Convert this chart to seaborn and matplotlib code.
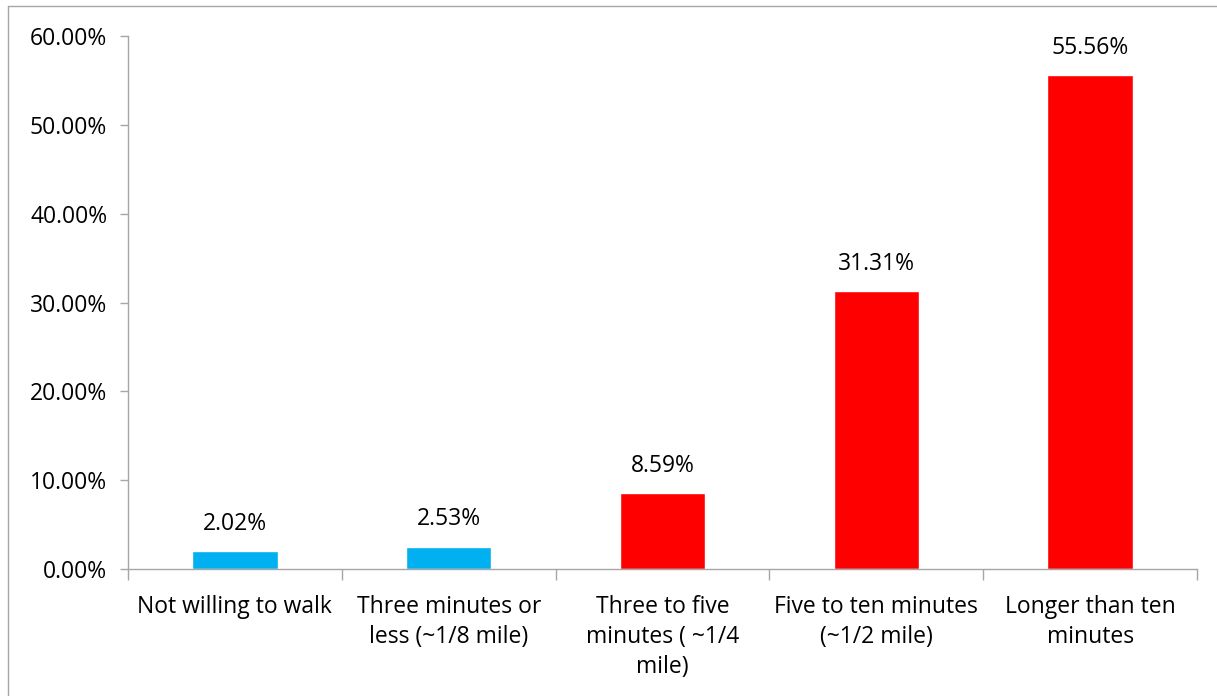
import matplotlib
matplotlib.use("Agg")
import matplotlib.pyplot as plt
import seaborn as sns
import pandas as pd
from matplotlib.lines import Line2D

categories = ["Not willing to walk", "Three minutes or\nless (~1/8 mile)",
              "Three to five\nminutes ( ~1/4\nmile)", "Five to ten minutes\n(~1/2 mile)",
              "Longer than ten\nminutes"]
values = [2.02, 2.53, 8.59, 31.31, 55.56]
colors = ["#00B0F0", "#00B0F0", "#FF0000", "#FF0000", "#FF0000"]
yticks = [0, 10, 20, 30, 40, 50, 60]

sns.set_theme(style="white")
plt.rcParams['font.family'] = ['Open Sans', 'DejaVu Sans']
FS = 16.5

fig = plt.figure(figsize=(12.17, 6.96), dpi=100)
ax = fig.add_axes([128/1217, (696-569)/696, (1197-128)/1217, (569-36)/696])

df = pd.DataFrame({"cat": categories, "val": values})
sns.barplot(data=df, x="cat", y="val", hue="cat", palette=colors, legend=False,
            width=0.4, ax=ax, saturation=1)

ax.set_ylim(0, 60)
ax.set_xlim(-0.5, 4.5)
ax.set_yticks(yticks)
ax.set_yticklabels([f"{t:.2f}%" for t in yticks], fontsize=FS, color="black")
ax.set_xlabel("")
ax.set_ylabel("")
ax.set_xticks(range(5))
ax.set_xticklabels(categories, fontsize=FS, color="black", linespacing=1.33)
ax.tick_params(axis="x", length=0, pad=19)
ax.tick_params(axis="y", length=6, width=1, color="#A6A6A6", pad=9, left=True)

for sp in ["top", "right"]:
    ax.spines[sp].set_visible(False)
for sp in ["left", "bottom"]:
    ax.spines[sp].set_color("#A6A6A6")
    ax.spines[sp].set_linewidth(1)

# category boundary ticks
ax.set_xticks([i - 0.5 for i in range(6)], minor=True)
ax.tick_params(axis="x", which="minor", length=8, width=1, color="#A6A6A6", bottom=True)

for i, v in enumerate(values):
    ax.text(i, v + 1.7, f"{v:.2f}%", ha="center", va="bottom", fontsize=FS, color="black")

fig.add_artist(Line2D([8/1217, 8/1217], [0, 1 - 6/696], transform=fig.transFigure,
                      color="#A6A6A6", lw=1))
fig.add_artist(Line2D([8/1217, 1], [1 - 6/696, 1 - 6/696], transform=fig.transFigure,
                      color="#A6A6A6", lw=1))

fig.savefig("out.png", dpi=100)
